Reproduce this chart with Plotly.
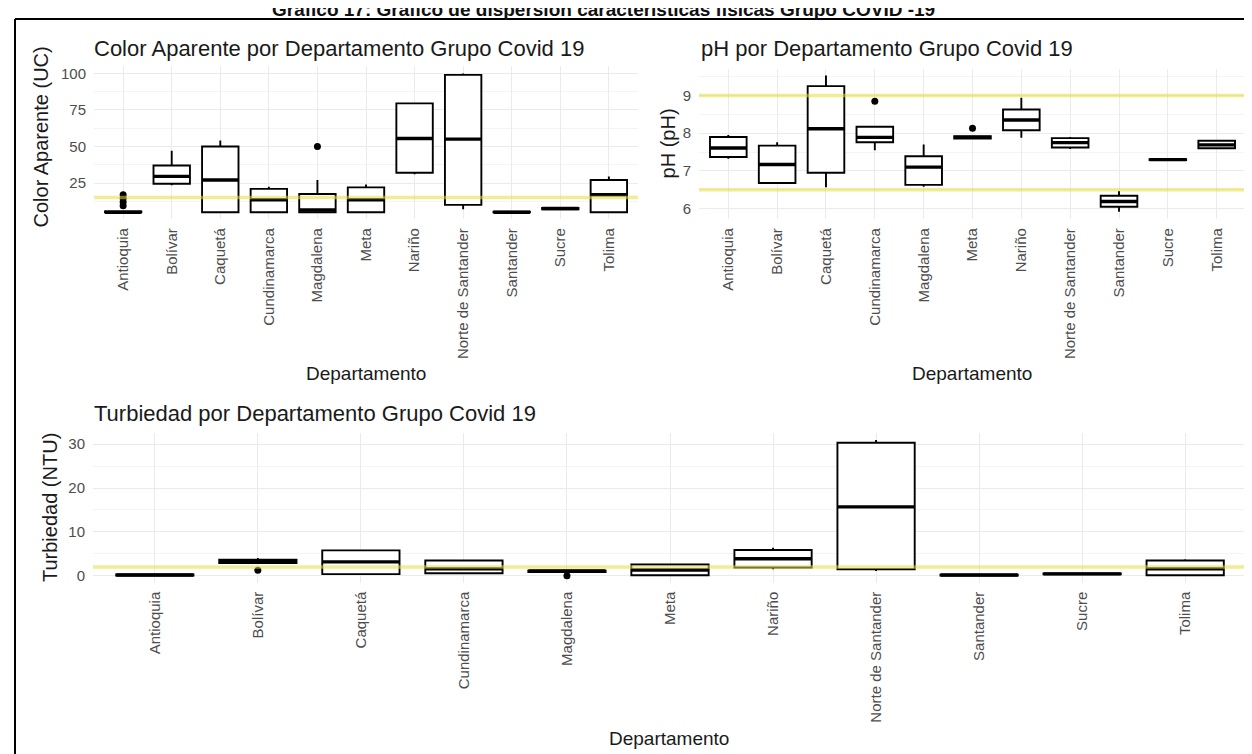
import plotly.graph_objects as go

# ---------------- data ----------------
departamentos = ["Antioquia", "Bolívar", "Caquetá", "Cundinamarca", "Magdalena", "Meta",
                 "Nariño", "Norte de Santander", "Santander", "Sucre", "Tolima"]

# Color aparente (UC)
color_low = [5, 23.5, 5, 5, 5, 5, 31, 7, 5, 7, 5]
color_q1 = [5, 24.5, 5, 5, 5, 5, 32, 10, 5, 7, 5]
color_med = [5, 29.5, 27, 13.5, 6.5, 13.5, 55.5, 55, 5, 7.5, 17]
color_q3 = [5.5, 37, 50, 21, 17.5, 22, 79.5, 99, 5.3, 8, 27]
color_up = [5.5, 47, 54, 22.5, 27, 24, 80, 100, 5.3, 8, 29.5]
color_out_x = ["Antioquia", "Antioquia", "Antioquia", "Antioquia", "Magdalena"]
color_out_y = [9.5, 12, 14.5, 17, 50]
color_limit = [15]
color_ticks = [25, 50, 75, 100]

# pH
ph_low = [7.32, 6.68, 6.57, 7.55, 6.58, 7.86, 7.88, 7.58, 5.92, 7.29, 7.58]
ph_q1 = [7.37, 6.68, 6.95, 7.76, 6.63, 7.86, 8.08, 7.62, 6.05, 7.29, 7.60]
ph_med = [7.61, 7.17, 8.12, 7.89, 7.10, 7.89, 8.35, 7.75, 6.19, 7.30, 7.69]
ph_q3 = [7.90, 7.67, 9.25, 8.17, 7.39, 7.92, 8.63, 7.87, 6.34, 7.31, 7.80]
ph_up = [7.95, 7.76, 9.53, 8.17, 7.70, 7.92, 8.94, 7.90, 6.47, 7.31, 7.81]
ph_out_x = ["Cundinamarca", "Meta"]
ph_out_y = [8.85, 8.13]
ph_limits = [6.5, 9.0]
ph_ticks = [6, 7, 8, 9]

# Turbiedad (NTU)
turb_low = [0.1, 2.9, 0.4, 0.5, 0.7, 0.1, 1.5, 1.1, 0.1, 0.35, 0.1]
turb_q1 = [0.1, 2.9, 0.4, 0.6, 0.9, 0.15, 1.9, 1.5, 0.1, 0.35, 0.15]
turb_med = [0.2, 3.3, 3.2, 1.6, 1.1, 1.35, 3.9, 15.7, 0.2, 0.45, 1.6]
turb_q3 = [0.35, 3.7, 5.8, 3.5, 1.2, 2.6, 5.9, 30.3, 0.3, 0.55, 3.5]
turb_up = [0.35, 4.1, 5.9, 3.5, 1.3, 2.8, 6.4, 30.9, 0.3, 0.55, 3.8]
turb_out_x = ["Bolívar", "Magdalena"]
turb_out_y = [1.3, 0.05]
turb_limit = [2]
turb_ticks = [0, 10, 20, 30]

titles = ["Color Aparente por Departamento Grupo Covid 19",
          "pH por Departamento Grupo Covid 19",
          "Turbiedad por Departamento Grupo Covid 19"]
ytitles = ["Color Aparente (UC)", "pH (pH)", "Turbiedad (NTU)"]
xtitle = "Departamento"
main_title = "Gráfico 17: Gráfico de dispersión características físicas Grupo COVID -19"

# ---------------- styling ----------------
W, H = 1252, 754
FONT = "Liberation Sans, Arial, Helvetica, sans-serif"
YELLOW = "rgba(232,222,60,0.55)"


def px(x):
    return x / W


def py(y):
    return 1 - y / H


fig = go.Figure()

panels = [
    dict(low=color_low, q1=color_q1, med=color_med, q3=color_q3, up=color_up,
         ox=color_out_x, oy=color_out_y, lim=color_limit, ticks=color_ticks,
         rng=[0.25, 104.75], minor=12.5, xa="x", ya="y"),
    dict(low=ph_low, q1=ph_q1, med=ph_med, q3=ph_q3, up=ph_up,
         ox=ph_out_x, oy=ph_out_y, lim=ph_limits, ticks=ph_ticks,
         rng=[5.72, 9.71], minor=0.5, xa="x2", ya="y2"),
    dict(low=turb_low, q1=turb_q1, med=turb_med, q3=turb_q3, up=turb_up,
         ox=turb_out_x, oy=turb_out_y, lim=turb_limit, ticks=turb_ticks,
         rng=[-1.55, 32.45], minor=5, xa="x3", ya="y3"),
]

for p in panels:
    fig.add_trace(go.Box(
        x=departamentos, q1=p["q1"], median=p["med"], q3=p["q3"],
        lowerfence=p["low"], upperfence=p["up"], boxpoints=False,
        fillcolor="white", line=dict(color="black", width=1.9),
        whiskerwidth=0, width=0.75, xaxis=p["xa"], yaxis=p["ya"],
        showlegend=False, hoverinfo="skip"))
    # thicker median line (ggplot fatten)
    fig.add_trace(go.Box(
        x=departamentos, q1=p["med"], median=p["med"], q3=p["med"],
        lowerfence=p["med"], upperfence=p["med"], boxpoints=False,
        fillcolor="rgba(0,0,0,0)", line=dict(color="black", width=3.4),
        whiskerwidth=0, width=0.75, xaxis=p["xa"], yaxis=p["ya"],
        showlegend=False, hoverinfo="skip"))
    fig.add_trace(go.Scatter(
        x=p["ox"], y=p["oy"], mode="markers",
        marker=dict(color="black", size=7), xaxis=p["xa"], yaxis=p["ya"],
        showlegend=False, hoverinfo="skip"))
    for v in p["lim"]:
        fig.add_shape(type="line", xref=p["xa"] + " domain", yref=p["ya"],
                      x0=0, x1=1, y0=v, y1=v, layer="above",
                      line=dict(color=YELLOW, width=3.5))

domains = [
    ([px(86), px(630)], [py(210), py(56.7)]),
    ([px(691), px(1238)], [py(210), py(59)]),
    ([px(85), px(1239)], [py(575), py(425)]),
]

layout_axes = {}
for i, (p, (dx, dy)) in enumerate(zip(panels, domains)):
    sfx = "" if i == 0 else str(i + 1)
    layout_axes["xaxis" + sfx] = dict(
        domain=dx, anchor="y" + sfx, type="category",
        categoryorder="array", categoryarray=departamentos,
        range=[-0.6, 10.6], tickangle=-90, showgrid=True,
        gridcolor="#ebebeb", gridwidth=1, zeroline=False, showline=False,
        ticks="", ticklabelstandoff=5,
        tickfont=dict(family=FONT, size=15, color="#4d4d4d"))
    layout_axes["yaxis" + sfx] = dict(
        domain=dy, anchor="x" + sfx, range=p["rng"], tickvals=p["ticks"],
        showgrid=True, gridcolor="#ebebeb", gridwidth=1, zeroline=False,
        showline=False, ticks="", ticklabelstandoff=7,
        minor=dict(dtick=p["minor"], showgrid=True, gridcolor="#f4f4f4", gridwidth=0.6),
        tickfont=dict(family=FONT, size=15, color="#4d4d4d"))

annotations = []
# panel titles
for t, (x, y) in zip(titles, [(84, 39), (691, 39), (84, 405)]):
    annotations.append(dict(text=t, x=px(x), y=py(y), xref="paper", yref="paper",
                            xanchor="left", yanchor="middle", showarrow=False,
                            font=dict(family=FONT, size=22, color="#1a1a1a")))
# y axis titles
for t, (x, y) in zip(ytitles, [(33, 128), (660, 134), (42, 500)]):
    annotations.append(dict(text=t, x=px(x), y=py(y), xref="paper", yref="paper",
                            xanchor="center", yanchor="middle", textangle=-90,
                            showarrow=False, font=dict(family=FONT, size=20, color="#1a1a1a")))
# x axis titles
for (x, y) in [(358, 365), (964, 365), (661, 731)]:
    annotations.append(dict(text=xtitle, x=px(x), y=py(y), xref="paper", yref="paper",
                            xanchor="center", yanchor="middle", showarrow=False,
                            font=dict(family=FONT, size=19, color="#1a1a1a")))
# figure caption (cut at the top edge, as in the source)
annotations.append(dict(text="<b>" + main_title + "</b>", x=px(595), y=py(-1),
                        xref="paper", yref="paper", xanchor="center", yanchor="middle",
                        showarrow=False, font=dict(family=FONT, size=19, color="#111")))

shapes_frame = [
    dict(type="line", xref="paper", yref="paper", x0=px(7), x1=px(7), y0=py(9), y1=py(760),
         line=dict(color="black", width=2), layer="above"),
    dict(type="line", xref="paper", yref="paper", x0=px(7), x1=px(1260), y0=py(9), y1=py(9),
         line=dict(color="black", width=2), layer="above"),
]
for s in shapes_frame:
    fig.add_shape(**s)

fig.update_layout(
    width=W, height=H, margin=dict(l=0, r=0, t=0, b=0),
    paper_bgcolor="white", plot_bgcolor="white",
    boxmode="overlay", annotations=annotations,
    font=dict(family=FONT),
    **layout_axes)

fig.write_html("out.html")
